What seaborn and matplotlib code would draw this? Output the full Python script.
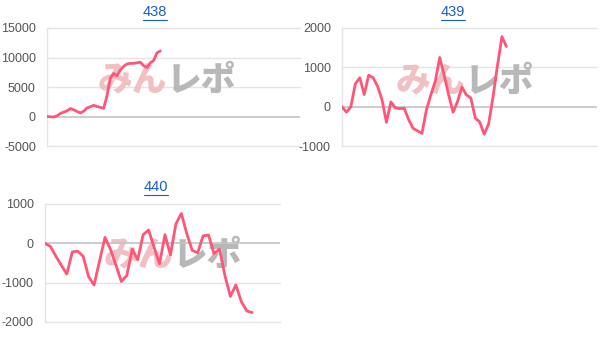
import numpy as np
import pandas as pd
import matplotlib
matplotlib.use("Agg")
import matplotlib.pyplot as plt
import seaborn as sns
from matplotlib.lines import Line2D

# ---- data ----
titles = ["438", "439", "440"]

v438 = [0, -50, -80, 100, 500, 750, 950, 1350, 1150, 850, 600, 900, 1450, 1650,
        1900, 1700, 1550, 1400, 3500, 6500, 7300, 6900, 7900, 8500, 8900, 9000,
        9000, 9100, 9200, 8600, 8300, 9100, 9500, 10800, 11100]

v439 = [0, -140, 0, 580, 735, 310, 800, 735, 520, 180, -400, 120, -30, -50, -40,
        -330, -550, -615, -680, -80, 300, 650, 1250, 800, 300, -140, 130, 500, 300,
        220, -290, -390, -700, -440, 250, 1050, 1780, 1530]

v440 = [0, -80, -330, -560, -780, -220, -200, -330, -850, -1060, -450, 150, -150,
        -550, -970, -820, -150, -420, 220, 340, -100, -520, 220, -300, 490, 760, 250,
        -180, -240, 190, 210, -260, -150, -820, -1350, -1060, -1480, -1720, -1760]

yticks_438 = [-5000, 0, 5000, 10000, 15000]
yticks_439 = [-1000, 0, 1000, 2000]
yticks_440 = [-2000, -1000, 0, 1000]

series = [v438, v439, v440]
yticks = [yticks_438, yticks_439, yticks_440]
xmax = [75.9, 57.4, 43.1]

# ---- layout (pixels) ----
W, H = 604, 346
boxes = [(47, 28, 300, 146), (342, 28, 597, 146), (45, 204, 280, 322)]
title_pos = [(155, 12), (453, 12), (156, 187)]
wm_pos = [(167, 80), (465, 81), (173, 255)]

sns.set_theme(style="white")
plt.rcParams['font.family'] = ['Liberation Sans', 'Noto Sans CJK JP', 'DejaVu Sans']

fig = plt.figure(figsize=(W / 100, H / 100), dpi=100)
fig.patch.set_facecolor("white")

line_color = "#ff5577"

for i in range(3):
    x0, y0, x1, y1 = boxes[i]
    ax = fig.add_axes([x0 / W, 1 - y1 / H, (x1 - x0) / W, (y1 - y0) / H])
    ax.set_facecolor("white")
    df = pd.DataFrame({"x": np.arange(len(series[i])), "y": series[i]})

    # watermark
    wx, wy = wm_pos[i]
    fx = (wx - x0) / (x1 - x0)
    fy = 1 - (wy - y0) / (y1 - y0)
    ax.text(fx, fy, "みん", transform=ax.transAxes, ha="right", va="center",
            fontsize=25, fontweight="heavy", color="#f0c0c2",
            family=["Noto Sans CJK JP"], zorder=1)
    ax.text(fx, fy, "レポ", transform=ax.transAxes, ha="left", va="center",
            fontsize=25, fontweight="heavy", color="#b8b8b8",
            family=["Noto Sans CJK JP"], zorder=1)

    sns.lineplot(data=df, x="x", y="y", ax=ax, color=line_color, linewidth=2.0,
                 zorder=3)

    yt = yticks[i]
    ax.set_ylim(yt[0], yt[-1])
    ax.set_xlim(0, xmax[i])
    ax.set_yticks(yt)
    ax.set_yticklabels([str(t) for t in yt], color="#555555", fontsize=9)
    ax.set_xticks([])
    ax.set_xlabel("")
    ax.set_ylabel("")
    ax.tick_params(axis="y", length=0, pad=8)
    for t in yt:
        if t != 0:
            ax.axhline(t, color="#e4e4e4", linewidth=1.0, zorder=0, clip_on=False)
    ax.axhline(0, color="#c4c4c4", linewidth=1.2, zorder=2)
    for s in ["top", "right", "bottom"]:
        ax.spines[s].set_visible(False)
    ax.spines["left"].set_color("#e4e4e4")
    ax.spines["left"].set_linewidth(1.0)

    # title (link-style, underlined)
    tx, ty = title_pos[i]
    t = fig.text(tx / W, 1 - ty / H, titles[i], ha="center", va="center",
                 fontsize=10.5, color="#1a5fc8")
    fig.canvas.draw()
    bb = t.get_window_extent()
    fig.add_artist(Line2D([bb.x0 / W, bb.x1 / W],
                          [(bb.y0 - 0.5) / H, (bb.y0 - 0.5) / H],
                          color="#1a5fc8", linewidth=0.8))

fig.savefig("out.png", dpi=100, facecolor="white")
